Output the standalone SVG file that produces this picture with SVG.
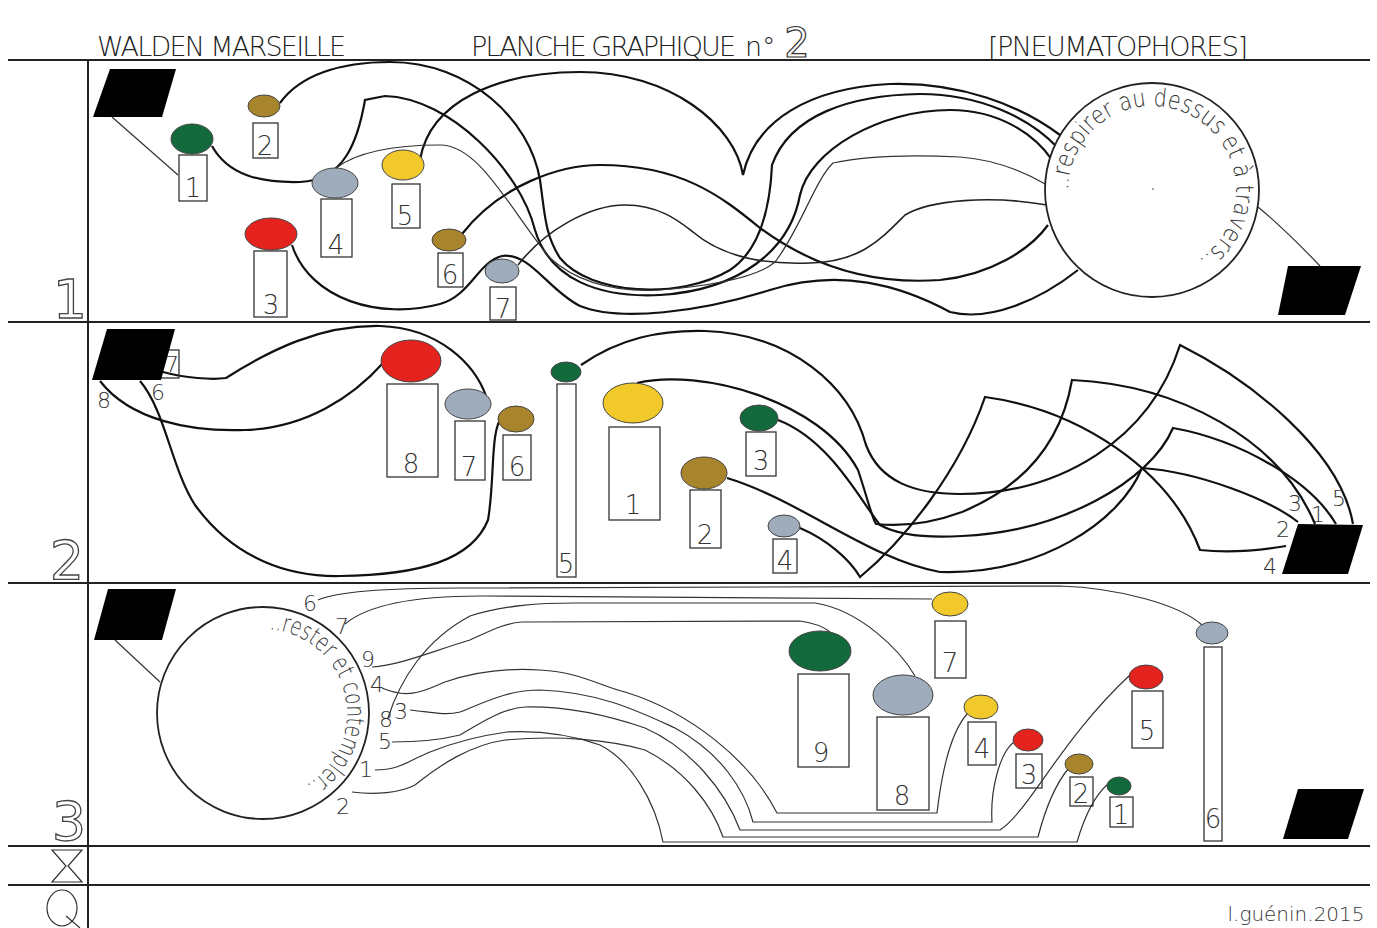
<svg xmlns="http://www.w3.org/2000/svg" width="1377" height="928" viewBox="0 0 1377 928">
<style>
.frame{stroke:#222;stroke-width:2;fill:none}
.box{fill:none;stroke:#333;stroke-width:1.3}
.ell{stroke:#444;stroke-width:1}
.g{fill:#11693c}.b{fill:#a8842c}.r{fill:#e4231e}.s{fill:#9eacbc}.y{fill:#f1c92a}
.blk{fill:#000}
.num{font-family:"DejaVu Sans",sans-serif;font-weight:200;font-size:26px;fill:#333;text-anchor:middle}
.lab{font-family:"DejaVu Sans",sans-serif;font-weight:200;font-size:22px;fill:#333;text-anchor:middle}
.title{font-family:"DejaVu Sans",sans-serif;font-weight:200;font-size:27px;fill:#222}
.row{font-family:"DejaVu Sans",sans-serif;font-size:54px;fill:#fff;stroke:#444;stroke-width:1.3;text-anchor:middle}
.arc{font-family:"DejaVu Sans",sans-serif;font-weight:200;font-size:25px;fill:#333}
.thick{fill:none;stroke:#111;stroke-width:2.2}
.mid{fill:none;stroke:#222;stroke-width:1.6}
.thin{fill:none;stroke:#333;stroke-width:1.2}
.circ{fill:#fff;stroke:#222;stroke-width:1.8}
</style>
<defs>
<path id="c1" d="M1068,190 A84,84 0 0 1 1236,190 A84,84 0 0 1 1068,190"/>
<path id="c3" d="M179,713 A84,84 0 0 1 347,713 A84,84 0 0 1 179,713"/>
</defs>
<rect width="1377" height="928" fill="#fff"/>

<g id="frame">
<line class="frame" x1="8" y1="60" x2="1370" y2="60"/>
<line class="frame" x1="8" y1="322" x2="1370" y2="322"/>
<line class="frame" x1="8" y1="583" x2="1370" y2="583"/>
<line class="frame" x1="8" y1="846" x2="1370" y2="846"/>
<line class="frame" x1="8" y1="885" x2="1370" y2="885"/>
<line class="frame" x1="88" y1="60" x2="88" y2="928"/>
<text class="title" x="97" y="56" textLength="249">WALDEN MARSEILLE</text>
<text class="title" x="471" y="56" textLength="265">PLANCHE GRAPHIQUE</text>
<text class="title" x="745" y="56" font-size="20">n°</text>
<text x="797" y="57" font-family="DejaVu Sans,sans-serif" font-size="40" fill="#fff" stroke="#333" stroke-width="1.2" text-anchor="middle">2</text>
<text class="title" x="988" y="56" textLength="260">[PNEUMATOPHORES]</text>
<text class="row" x="70" y="318">1</text>
<text class="row" x="67" y="579">2</text>
<text class="row" x="69" y="840">3</text>
<path class="thin" d="M52,850 L82,850 L68,866 L82,882 L52,882 L66,866 Z"/>
<ellipse class="thin" cx="62" cy="908" rx="15" ry="18"/>
<path class="thin" d="M66,916 L80,928"/>
<text x="1296" y="921" font-family="DejaVu Sans,sans-serif" font-weight="200" font-size="20" fill="#333" text-anchor="middle">l.guénin.2015</text>
</g>

<g id="connectors">
<!-- row 1 -->
<path class="thin" d="M112,117 L178,175"/>
<path class="thin" d="M1258,207 C1280,225 1300,245 1320,266"/>
<path class="thick" d="M280,103 C300,75 340,62 390,62 C470,62 530,120 540,180 C545,215 545,235 560,258 C590,295 680,300 730,270 C760,250 770,210 772,165 C790,115 850,95 920,94 C980,94 1030,118 1058,148"/>
<path class="thick" d="M420,160 C430,100 500,72 580,72 C670,72 735,125 743,175 C755,120 810,88 890,84 C960,82 1020,105 1060,135"/>
<path class="thick" d="M212,146 C228,175 260,183 300,182 C345,180 358,140 365,100 L385,96 C450,98 520,170 535,230 C550,280 600,298 660,295 C740,290 790,250 800,195 C810,150 880,110 950,110 C1000,110 1035,135 1052,160"/>
<path class="thick" d="M292,245 C310,300 380,320 440,304 C470,296 478,262 502,256 C530,252 548,290 580,306 C620,322 700,312 770,290 C840,268 900,285 950,312 C990,322 1040,300 1078,270"/>
<path class="thick" d="M462,234 C500,185 560,165 600,165 C680,165 720,195 760,228 C810,265 870,285 940,280 C990,275 1030,250 1048,225"/>
<path class="mid" d="M518,265 C545,230 590,205 625,205 C660,205 680,222 693,232 C720,255 760,265 810,263 C860,262 880,240 905,215 C930,200 990,195 1047,205"/>
<path class="thin" d="M336,168 C360,150 400,145 440,145 C480,145 510,210 550,258 C580,285 620,292 660,290 C720,285 760,275 775,262 C800,230 815,180 833,163 C870,155 920,155 960,157 C1000,160 1030,175 1047,185"/>
<!-- row 2 -->
<path class="thick" d="M163,372 C185,378 212,380 226,378 C270,350 320,325 380,326 C440,328 475,365 486,396"/>
<path class="thick" d="M100,381 C130,420 190,432 245,430 C305,428 352,398 384,362"/>
<path class="thick" d="M140,381 C165,410 172,470 195,505 C235,560 290,577 340,576 C420,575 472,560 488,520 C495,480 490,430 502,417"/>
<path class="thick" d="M581,365 C620,338 660,330 705,331 C790,334 850,385 866,445 C880,482 915,494 960,494 C1060,494 1150,440 1180,345 C1250,380 1340,450 1353,524"/>
<path class="thick" d="M637,383 C700,368 820,400 858,470 C868,500 872,518 876,524 C905,527 935,522 962,512 C1015,490 1060,450 1072,380 C1180,385 1280,440 1315,524"/>
<path class="thick" d="M778,420 C830,440 860,500 880,525 C900,536 930,538 962,536 C1060,532 1150,482 1173,428 C1240,440 1310,480 1336,524"/>
<path class="thick" d="M727,478 C800,500 870,560 940,572 C1040,575 1120,522 1142,468 C1200,472 1270,500 1298,522"/>
<path class="thick" d="M800,528 C828,540 850,560 860,577 C905,540 960,470 985,397 C1080,410 1170,470 1200,550 C1230,553 1262,550 1286,546"/>
<!-- row 3 -->
<path class="thin" d="M115,640 L160,682"/>
<path class="thin" d="M318,600 C340,590 400,588 460,588 L1060,586 C1120,588 1180,605 1202,625"/>
<path class="thin" d="M345,624 C370,603 420,596 480,596 L932,599"/>
<path class="thin" d="M388,718 C400,680 425,640 470,616 C505,605 540,603 575,603 L815,603 C860,610 900,650 915,676"/>
<path class="thin" d="M372,667 C400,665 430,652 470,640 C492,630 505,623 522,622 L800,621 C815,623 825,628 830,632"/>
<path class="thin" d="M382,688 C410,700 425,690 445,682 C480,670 510,668 540,670 C580,672 600,686 625,692 C690,712 750,760 777,813 L937,813 C942,770 952,730 968,713"/>
<path class="thin" d="M410,710 C430,712 445,716 460,712 C490,700 510,690 540,690 C600,692 640,712 675,728 C720,752 745,790 753,822 L992,822 C990,790 1000,752 1014,742"/>
<path class="thin" d="M392,742 C420,742 440,740 460,735 C485,720 505,708 525,707 C570,706 610,716 645,728 C690,748 725,790 740,830 L1000,830 C1030,810 1060,740 1131,674"/>
<path class="thin" d="M352,792 C375,795 400,793 415,785 C440,765 470,745 505,740 C560,735 610,740 645,750 C685,770 712,805 723,837 L1038,837 C1045,810 1055,785 1068,769"/>
<path class="thin" d="M375,770 C400,770 410,760 430,752 C460,740 485,735 507,732 C550,730 580,738 600,745 C630,760 655,800 663,842 L1077,842 C1085,815 1095,795 1108,784"/>
</g>

<!-- Row 1 nodes -->
<g id="r1-start"><polygon class="blk" points="110,69 176,69 162,117 93,117"/></g>
<g id="r1-n1"><rect class="box" x="179" y="155" width="28" height="46"/><ellipse class="ell g" cx="192" cy="139" rx="21" ry="15"/><text class="num" x="193" y="197">1</text></g>
<g id="r1-n2"><rect class="box" x="253" y="123" width="25" height="35"/><ellipse class="ell b" cx="264" cy="106" rx="16" ry="11"/><text class="num" x="265" y="155">2</text></g>
<g id="r1-n3"><rect class="box" x="254" y="251" width="33" height="66"/><ellipse class="ell r" cx="271" cy="234" rx="26" ry="16"/><text class="num" x="271" y="314">3</text></g>
<g id="r1-n4"><rect class="box" x="321" y="199" width="31" height="58"/><ellipse class="ell s" cx="335" cy="183" rx="23" ry="15"/><text class="num" x="336" y="254">4</text></g>
<g id="r1-n5"><rect class="box" x="392" y="184" width="28" height="44"/><ellipse class="ell y" cx="403" cy="165" rx="21" ry="15"/><text class="num" x="405" y="225">5</text></g>
<g id="r1-n6"><rect class="box" x="438" y="253" width="25" height="34"/><ellipse class="ell b" cx="449" cy="240" rx="17" ry="11"/><text class="num" x="450" y="284">6</text></g>
<g id="r1-n7"><rect class="box" x="490" y="287" width="26" height="33"/><ellipse class="ell s" cx="502" cy="271" rx="17" ry="12"/><text class="num" x="503" y="318">7</text></g>
<g id="r1-circle"><circle class="circ" cx="1152" cy="190" r="107"/><circle cx="1153" cy="189" r="0.8" fill="#333"/>
<text class="arc"><textPath href="#c1" textLength="346" lengthAdjust="spacingAndGlyphs">..respirer au dessus et à travers..</textPath></text></g>
<g id="r1-end"><polygon class="blk" points="1288,266 1361,266 1345,315 1278,315"/></g>

<!-- Row 2 nodes -->
<g id="r2-start"><rect class="box" x="160" y="350" width="19" height="28"/><text class="lab" x="172" y="372">7</text><polygon class="blk" points="107,329 175,329 161,380 92,380"/><text class="lab" x="104" y="408">8</text><text class="lab" x="158" y="400">6</text></g>
<g id="r2-n8"><rect class="box" x="387" y="384" width="51" height="93"/><ellipse class="ell r" cx="411" cy="361" rx="30" ry="21"/><text class="num" x="411" y="473">8</text></g>
<g id="r2-n7"><rect class="box" x="455" y="421" width="30" height="59"/><ellipse class="ell s" cx="468" cy="404" rx="23" ry="15"/><text class="num" x="469" y="476">7</text></g>
<g id="r2-n6"><rect class="box" x="503" y="435" width="28" height="45"/><ellipse class="ell b" cx="516" cy="419" rx="18" ry="13"/><text class="num" x="517" y="476">6</text></g>
<g id="r2-n5"><rect class="box" x="557" y="384" width="19" height="193"/><ellipse class="ell g" cx="566" cy="372" rx="15" ry="10"/><text class="num" x="566" y="573">5</text></g>
<g id="r2-n1"><rect class="box" x="609" y="427" width="51" height="93"/><ellipse class="ell y" cx="633" cy="403" rx="30" ry="20"/><text class="num" x="633" y="514">1</text></g>
<g id="r2-n2"><rect class="box" x="690" y="490" width="31" height="58"/><ellipse class="ell b" cx="704" cy="473" rx="23" ry="16"/><text class="num" x="705" y="544">2</text></g>
<g id="r2-n3"><rect class="box" x="746" y="432" width="30" height="44"/><ellipse class="ell g" cx="759" cy="418" rx="19" ry="13"/><text class="num" x="761" y="470">3</text></g>
<g id="r2-n4"><rect class="box" x="773" y="539" width="24" height="34"/><ellipse class="ell s" cx="784" cy="526" rx="16" ry="11"/><text class="num" x="785" y="570">4</text></g>
<g id="r2-end"><polygon class="blk" points="1298,524 1363,525 1348,574 1282,574"/>
<text class="lab" x="1295" y="511">3</text><text class="lab" x="1318" y="522">1</text><text class="lab" x="1339" y="506">5</text><text class="lab" x="1283" y="537">2</text><text class="lab" x="1270" y="574">4</text></g>

<!-- Row 3 nodes -->
<g id="r3-start"><polygon class="blk" points="108,589 176,589 162,640 94,640"/></g>
<g id="r3-circle"><circle class="circ" cx="263" cy="713" r="106"/>
<text class="arc" font-size="24"><textPath href="#c3" startOffset="138" textLength="212" lengthAdjust="spacingAndGlyphs">..rester et contempler..</textPath></text>
<text class="lab" x="310" y="611">6</text><text class="lab" x="342" y="634">7</text><text class="lab" x="368" y="667">9</text><text class="lab" x="377" y="692">4</text><text class="lab" x="401" y="719">3</text><text class="lab" x="386" y="727">8</text><text class="lab" x="385" y="749">5</text><text class="lab" x="366" y="777">1</text><text class="lab" x="343" y="814">2</text></g>
<g id="r3-n9"><rect class="box" x="798" y="674" width="51" height="93"/><ellipse class="ell g" cx="820" cy="651" rx="31" ry="20"/><text class="num" x="821" y="762">9</text></g>
<g id="r3-n8"><rect class="box" x="877" y="717" width="52" height="93"/><ellipse class="ell s" cx="903" cy="695" rx="30" ry="20"/><text class="num" x="902" y="805">8</text></g>
<g id="r3-n7"><rect class="box" x="935" y="621" width="31" height="57"/><ellipse class="ell y" cx="950" cy="604" rx="18" ry="12"/><text class="num" x="950" y="672">7</text></g>
<g id="r3-n4"><rect class="box" x="968" y="722" width="28" height="43"/><ellipse class="ell y" cx="981" cy="707" rx="17" ry="12"/><text class="num" x="982" y="758">4</text></g>
<g id="r3-n3"><rect class="box" x="1016" y="754" width="26" height="34"/><ellipse class="ell r" cx="1028" cy="740" rx="15" ry="11"/><text class="num" x="1029" y="784">3</text></g>
<g id="r3-n2"><rect class="box" x="1070" y="777" width="23" height="29"/><ellipse class="ell b" cx="1079" cy="764" rx="14" ry="10"/><text class="num" x="1081" y="803">2</text></g>
<g id="r3-n1"><rect class="box" x="1110" y="797" width="23" height="30"/><ellipse class="ell g" cx="1119" cy="786" rx="12" ry="9"/><text class="num" x="1121" y="824">1</text></g>
<g id="r3-n5"><rect class="box" x="1132" y="691" width="31" height="57"/><ellipse class="ell r" cx="1146" cy="677" rx="17" ry="12"/><text class="num" x="1147" y="740">5</text></g>
<g id="r3-n6"><rect class="box" x="1204" y="647" width="18" height="194"/><ellipse class="ell s" cx="1212" cy="633" rx="16" ry="11"/><text class="num" x="1213" y="828">6</text></g>
<g id="r3-end"><polygon class="blk" points="1298,789 1364,789 1348,839 1283,839"/></g>
</svg>
